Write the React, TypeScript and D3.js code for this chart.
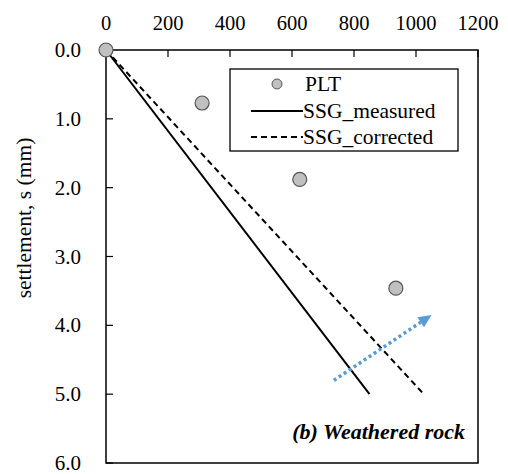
import React from "react";
import * as d3 from "d3";

// Load-settlement data
const pltLoad = [0, 310, 625, 935];
const pltSettle = [0, 0.77, 1.88, 3.46];
const measuredLoad = [0, 850];
const measuredSettle = [0, 5.0];
const correctedLoad = [0, 1025];
const correctedSettle = [0, 5.0];
const xTicks = [0, 200, 400, 600, 800, 1000, 1200];
const yTicks = [0, 1, 2, 3, 4, 5, 6];
// trend arrow (load, settlement)
const arrowLoad = [735, 1050];
const arrowSettle = [4.8, 3.85];

const W = 508;
const H = 474;
const m = { left: 106, right: 30, top: 50, bottom: 11 };
const FONT = "'Liberation Serif', 'Times New Roman', Times, serif";
const tStyle: React.CSSProperties = { fontFamily: FONT };

export default function App() {
  const x = d3.scaleLinear().domain([0, 1200]).range([m.left, W - m.right]);
  const y = d3.scaleLinear().domain([0, 6]).range([m.top, H - m.bottom]);
  const line = d3
    .line<[number, number]>()
    .x((d) => x(d[0]))
    .y((d) => y(d[1]));
  const measured = measuredLoad.map((v, i) => [v, measuredSettle[i]] as [number, number]);
  const corrected = correctedLoad.map((v, i) => [v, correctedSettle[i]] as [number, number]);

  const ax0 = x(arrowLoad[0]);
  const ay0 = y(arrowSettle[0]);
  const ax1 = x(arrowLoad[1]);
  const ay1 = y(arrowSettle[1]);
  const ang = Math.atan2(ay1 - ay0, ax1 - ax0);
  const headLen = 13;
  const headW = 6;
  const bx = ax1 - headLen * Math.cos(ang);
  const by = ay1 - headLen * Math.sin(ang);
  const px = -Math.sin(ang);
  const py = Math.cos(ang);
  const head = `M${ax1},${ay1}L${bx + px * headW},${by + py * headW}L${bx - px * headW},${by - py * headW}Z`;

  return (
    <svg
      width={W}
      height={H}
      style={{ position: "absolute", left: 0, top: 0, background: "#fff", fontFamily: FONT }}
    >
      {/* frame */}
      <rect
        x={x(0)}
        y={y(0)}
        width={x(1200) - x(0)}
        height={y(6) - y(0)}
        fill="none"
        stroke="#000"
        strokeWidth={1.5}
      />
      {/* top x-axis */}
      {xTicks.map((t) => (
        <g key={"x" + t}>
          <line x1={x(t)} x2={x(t)} y1={y(0)} y2={y(0) + 7} stroke="#000" strokeWidth={1.2} />
          <text x={x(t)} y={30} textAnchor="middle" fontSize={20.5} fill="#000" style={tStyle}>
            {t}
          </text>
        </g>
      ))}
      {/* left y-axis */}
      {yTicks.map((t) => (
        <g key={"y" + t}>
          <line x1={x(0)} x2={x(0) + 7} y1={y(t)} y2={y(t)} stroke="#000" strokeWidth={1.2} />
          <text x={81} y={y(t) + 7} textAnchor="end" fontSize={21} fill="#000" style={tStyle}>
            {t.toFixed(1)}
          </text>
        </g>
      ))}
      <text
        transform={`translate(31,218) rotate(-90)`}
        textAnchor="middle"
        fontSize={21.5}
        fill="#000"
        style={tStyle}
      >
        settlement, s (mm)
      </text>

      {/* SSG lines */}
      <path d={line(measured) || ""} fill="none" stroke="#000" strokeWidth={2} />
      <path d={line(corrected) || ""} fill="none" stroke="#000" strokeWidth={2} strokeDasharray="6,4" />

      {/* trend arrow */}
      <line x1={ax0} y1={ay0} x2={bx} y2={by} stroke="#5b9bd5" strokeWidth={3.5} strokeDasharray="3,3" />
      <path d={head} fill="#5b9bd5" />

      {/* PLT points */}
      {pltLoad.map((v, i) => (
        <circle key={"p" + i} cx={x(v)} cy={y(pltSettle[i])} r={7} fill="#c0c0c0" stroke="#555" strokeWidth={1.2} />
      ))}

      {/* legend */}
      <rect x={230} y={69} width={228} height={82} fill="#fff" stroke="#000" strokeWidth={1.3} />
      <circle cx={277} cy={84} r={5} fill="#c0c0c0" stroke="#555" strokeWidth={1} />
      <text x={305} y={91} fontSize={21.5} fill="#000" style={tStyle}>PLT</text>
      <line x1={251} x2={303} y1={111} y2={111} stroke="#000" strokeWidth={2} />
      <text x={303} y={118} fontSize={21.5} fill="#000" style={tStyle}>SSG_measured</text>
      <line x1={251} x2={303} y1={137} y2={137} stroke="#000" strokeWidth={2} strokeDasharray="6,4" />
      <text x={303} y={144} fontSize={21.5} fill="#000" style={tStyle}>SSG_corrected</text>

      <text x={465} y={439} textAnchor="end" fontSize={22} fontWeight="bold" fontStyle="italic" fill="#000" style={tStyle}>
        (b) Weathered rock
      </text>
    </svg>
  );
}
